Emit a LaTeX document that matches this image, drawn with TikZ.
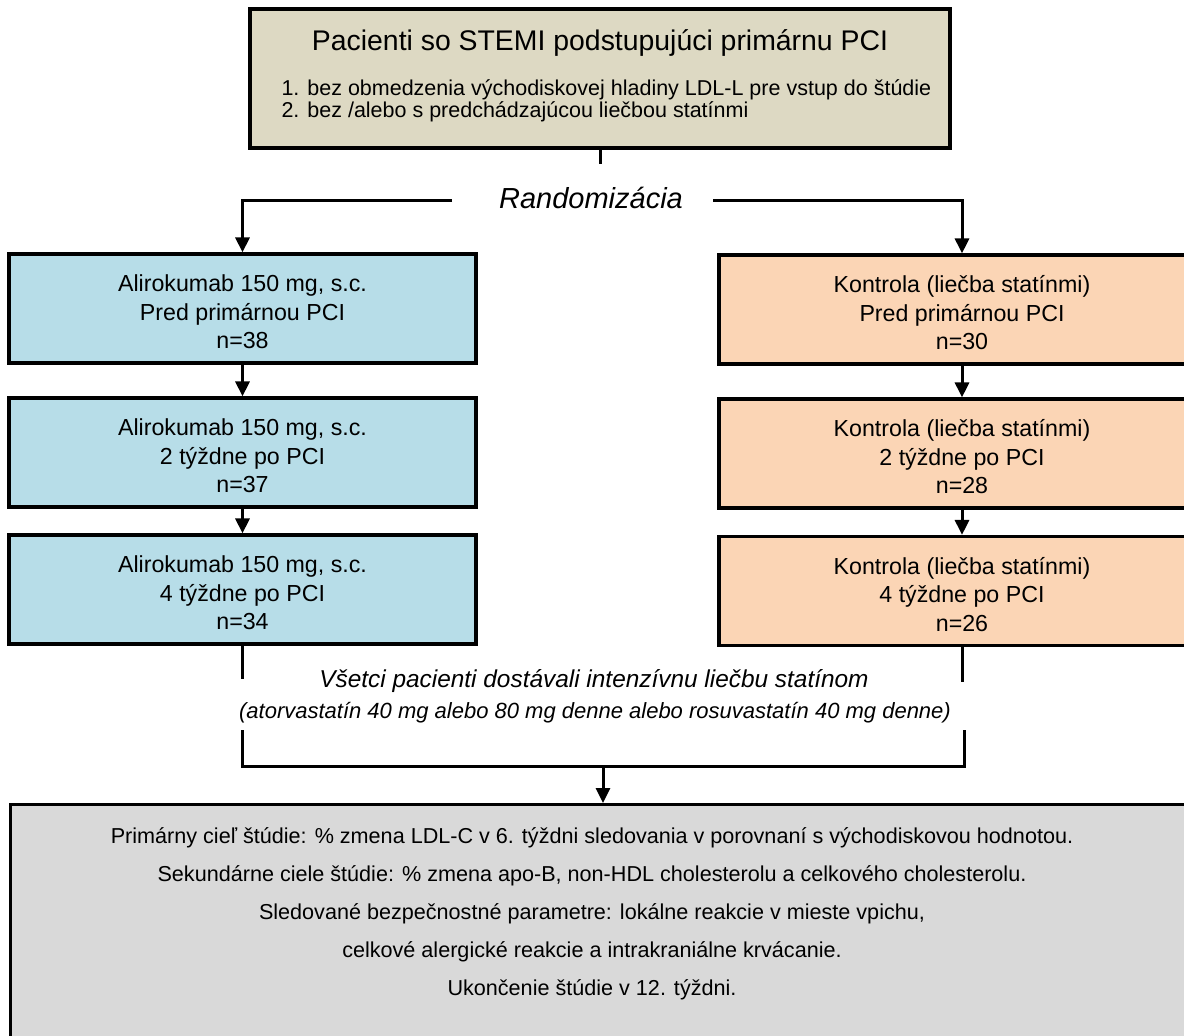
\documentclass[tikz,border=0pt]{standalone}
\usepackage{fontspec}
\setmainfont{Liberation Sans}
\usetikzlibrary{arrows.meta}
\definecolor{figTan}{RGB}{221,217,195}
\definecolor{figBlue}{RGB}{183,221,232}
\definecolor{figOrange}{RGB}{251,213,181}
\definecolor{figGray}{RGB}{217,217,217}

\begin{document}
\begin{tikzpicture}[x=0.5pt,y=-0.5pt,line width=1.5pt,>={Triangle[width=7pt,length=7.5pt]},
  armbox/.style={draw,line width=1.6pt,minimum width=233.5pt,minimum height=54.5pt,align=center,
    text height=40pt,text depth=0pt,font=\fontsize{11.6}{14.2}\selectfont},
  kontbox/.style={armbox,fill=figOrange,minimum width=243pt},
  alibox/.style={armbox,fill=figBlue}]
\useasboundingbox (0,0) rectangle (1184,1035);
\clip (0,0) rectangle (1184,1035);
\fill[white] (0,0) rectangle (1184,1035);
% hlavicka
\node[draw,line width=1.6pt,fill=figTan,minimum width=350pt,minimum height=69.5pt] (pacienti) at (600,78.5) {};
\node[font=\fontsize{14.2}{17}\selectfont] (titul) at (600,43) {Pacienti so STEMI podstupujúci primárnu PCI};
\node[anchor=base west,align=left,inner sep=0pt,font=\fontsize{10.75}{11}\selectfont] (kriteria) at (280,117)
  {1. bez obmedzenia východiskovej hladiny LDL-L pre vstup do štúdie\\2. bez /alebo s predchádzajúcou liečbou statínmi};
\coordinate (stem) at (600,164);
\draw (pacienti) -- (stem);
\node[font=\fontsize{14.5}{17}\selectfont\itshape] (rand) at (591,198) {Randomizácia};
\coordinate (randL) at (452,200);
\coordinate (randR) at (713,200);
% ramena
\node[alibox] (a1) at (242.5,308.5) {Alirokumab 150 mg, s.c.\\Pred primárnou PCI\\n=38};
\node[alibox] (a2) at (242.5,452.5) {Alirokumab 150 mg, s.c.\\2 týždne po PCI\\n=37};
\node[alibox] (a3) at (242.5,589.5) {Alirokumab 150 mg, s.c.\\4 týždne po PCI\\n=34};
\node[kontbox] (k1) at (962,309.5) {Kontrola (liečba statínmi)\\Pred primárnou PCI\\n=30};
\node[kontbox] (k2) at (962,453.5) {Kontrola (liečba statínmi)\\2 týždne po PCI\\n=28};
\node[kontbox] (k3) at (962,591) {Kontrola (liečba statínmi)\\4 týždne po PCI\\n=26};
\draw[->] (randL) -| (a1);
\draw[->] (randR) -| (k1);
\draw[->] (a1) -- (a2);
\draw[->] (a2) -- (a3);
\draw[->] (k1) -- (k2);
\draw[->] (k2) -- (k3);
% statiny
\node[font=\fontsize{12.2}{14}\selectfont\itshape] (statiny) at (594,681) {Všetci pacienti dostávali intenzívnu liečbu statínom};
\node[font=\fontsize{11}{13}\selectfont\itshape] (davky) at (595,713) {(atorvastatín 40 mg alebo 80 mg denne alebo rosuvastatín 40 mg denne)};
\coordinate (lh) at (242.5,679);
\coordinate (rh) at (962,682);
\coordinate (ld) at (242.5,730);
\coordinate (rd) at (964,730);
\coordinate (zber) at (603,766);
\draw (a3) -- (lh);
\draw (k3) -- (rh);
\draw (ld) |- (zber) -| (rd);
% ciele studie
\node[draw,line width=1.6pt,fill=figGray,anchor=north west,minimum width=640pt,minimum height=150pt] (ciele) at (9,803) {};
\draw[->] (zber) -- (zber |- ciele.north);
\node[align=center,font=\fontsize{10.8}{19}\selectfont] (cieletext) at (592,914)
  {Primárny cieľ štúdie: \% zmena LDL-C v 6. týždni sledovania v porovnaní s východiskovou hodnotou.\\
   Sekundárne ciele štúdie: \% zmena apo-B, non-HDL cholesterolu a celkového cholesterolu.\\
   Sledované bezpečnostné parametre: lokálne reakcie v mieste vpichu,\\
   celkové alergické reakcie a intrakraniálne krvácanie.\\
   Ukončenie štúdie v 12. týždni.};
\end{tikzpicture}
\end{document}
